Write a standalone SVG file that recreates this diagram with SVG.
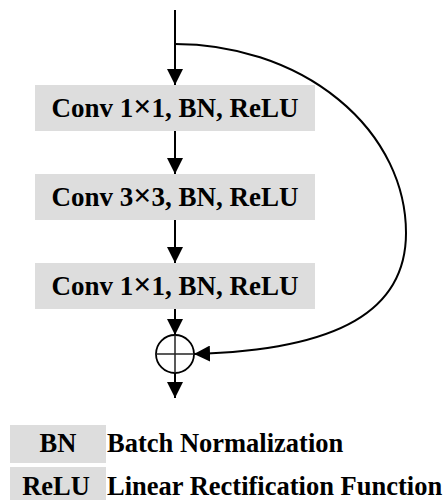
<svg xmlns="http://www.w3.org/2000/svg" width="444" height="500" viewBox="0 0 444 500">
<style>
.box{fill:#dddddd}
.t{font-family:'Liberation Serif','DejaVu Serif',serif;font-weight:700;font-size:27px;fill:#000}
.x{font-size:32px}
.lt{font-family:'Liberation Serif','DejaVu Serif',serif;font-weight:700;font-size:26.5px;fill:#000}
.ln{stroke:#000;stroke-width:2;fill:none}
</style>
<defs>
<marker id="ah" viewBox="0 0 16 16" refX="16" refY="8" markerWidth="16" markerHeight="16" markerUnits="userSpaceOnUse" orient="auto">
<path d="M0,0 L16,8 L0,16 Z" fill="#000"/>
</marker>
</defs>
<g id="node-conv1">
<rect class="box" x="35" y="85" width="280" height="46"/>
<text class="t" x="175" y="117" text-anchor="middle">Conv 1<tspan class="x">×</tspan>1, BN, ReLU</text>
</g>
<g id="node-conv2">
<rect class="box" x="35" y="174" width="280" height="46"/>
<text class="t" x="175" y="206" text-anchor="middle">Conv 3<tspan class="x">×</tspan>3, BN, ReLU</text>
</g>
<g id="node-conv3">
<rect class="box" x="35" y="263" width="280" height="46"/>
<text class="t" x="175" y="295" text-anchor="middle">Conv 1<tspan class="x">×</tspan>1, BN, ReLU</text>
</g>
<g id="node-add">
<circle cx="175" cy="354" r="19" fill="#fff" stroke="#000" stroke-width="1.8"/>
<line x1="156" y1="354" x2="194" y2="354" stroke="#222" stroke-width="1.5"/>
<line x1="175" y1="335" x2="175" y2="373" stroke="#222" stroke-width="1.5"/>
</g>
<g id="connectors">
<line class="ln" x1="175" y1="10" x2="175" y2="85" marker-end="url(#ah)"/>
<line class="ln" x1="175" y1="131" x2="175" y2="174" marker-end="url(#ah)"/>
<line class="ln" x1="175" y1="220" x2="175" y2="263" marker-end="url(#ah)"/>
<line class="ln" x1="175" y1="309" x2="175" y2="335" marker-end="url(#ah)"/>
<line class="ln" x1="175" y1="373" x2="175" y2="398" marker-end="url(#ah)"/>
<path class="ln" d="M175,44 A231,189 0 0 1 406,233 C406,310 340,350 194,354" marker-end="url(#ah)"/>
</g>
<g id="legend-bn">
<rect class="box" x="10" y="425" width="96" height="38"/>
<text class="lt" x="58" y="452" text-anchor="middle">BN</text>
<text class="lt" x="107" y="452">Batch Normalization</text>
</g>
<g id="legend-relu">
<rect class="box" x="10" y="467" width="96" height="33"/>
<text class="lt" x="56" y="495" text-anchor="middle">ReLU</text>
<text class="lt" x="107" y="495">Linear Rectification Function</text>
</g>
</svg>
